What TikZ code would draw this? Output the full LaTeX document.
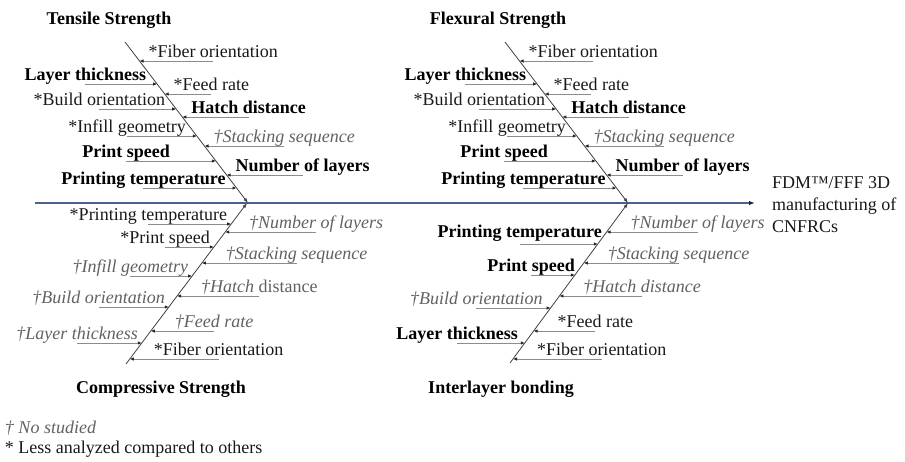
\documentclass[tikz,border=0pt]{standalone}
\usepackage{fontspec}
\setmainfont{Liberation Serif}
\usetikzlibrary{arrows.meta}
\definecolor{spineblue}{RGB}{76,95,145}
\newcommand{\fsz}{\fontsize{18}{22}\selectfont}

\begin{document}
\begin{tikzpicture}[
	x=1pt, y=-1pt,
	every node/.style={inner sep=0pt, outer sep=0pt, text=black!90},
	plain/.style={font=\fsz},
	boldtxt/.style={font=\fsz\bfseries, text=black},
	nostudy/.style={font=\fsz\itshape, text=black!62},
	ribleft/.style={anchor=base east, xshift=-11pt, yshift=4pt},
	ribright/.style={anchor=base west, xshift=9pt, yshift=4pt},
	ribleftlow/.style={anchor=base east, xshift=-4pt, yshift=4pt},
	ribrightlow/.style={anchor=base west, xshift=24pt, yshift=4pt},
	bone/.style={draw=black!75, line width=0.8pt, -{Latex[length=5pt,width=3.5pt]}},
	rib/.style={draw=black!45, line width=0.8pt, -{Latex[length=4pt,width=3.5pt,color=black!85]}},
	spine/.style={draw=spineblue, line width=1.2pt, -{Latex[length=6pt,width=4.5pt,color=black!85]}}
	]
	\useasboundingbox (0,0) rectangle (905,461);
	
	% Spine and bones
	\coordinate (spStart) at (35,203);
	\coordinate (spEnd) at (755,203);
	\coordinate (tsTop) at (125,42);
	\coordinate (tsEnd) at (248,203);
	\coordinate (fxTop) at (505,42);
	\coordinate (fxEnd) at (628,203);
	\coordinate (csBot) at (126,364);
	\coordinate (csEnd) at (247,203);
	\coordinate (ibBot) at (510,363);
	\coordinate (ibEnd) at (628,203);
	
	\draw[spine] (spStart) -- (spEnd);
	\draw[bone] (tsTop) -- (tsEnd);
	\draw[bone] (fxTop) -- (fxEnd);
	\draw[bone] (csBot) -- (csEnd);
	\draw[bone] (ibBot) -- (ibEnd);
	
	% Titles
	\node[boldtxt, anchor=base] (tsTitle) at (109,24) {Tensile Strength};
	\node[boldtxt, anchor=base] (fxTitle) at (498,24) {Flexural Strength};
	\node[boldtxt, anchor=base] (csTitle) at (161,393) {Compressive Strength};
	\node[boldtxt, anchor=base] (ibTitle) at (501,393) {Interlayer bonding};
	\node[plain, anchor=north west, align=left] (result) at (772,177) {FDM™/FFF 3D\\manufacturing of\\CNFRCs};
	
	% Tensile Strength
	\coordinate (ts1) at (139.5,61);
	\coordinate (ts2) at (157.1,84);
	\coordinate (ts3) at (164.7,94);
	\coordinate (ts4) at (176.2,109);
	\coordinate (ts5) at (182.3,117);
	\coordinate (ts6) at (196.8,136);
	\coordinate (ts7) at (204.5,146);
	\coordinate (ts8) at (215.9,161);
	\coordinate (ts9) at (226.6,175);
	\coordinate (ts10) at (236.5,188);
	\node[plain, ribright] (ts1t) at (ts1) {*Fiber orientation};
	\node[boldtxt, ribleft] (ts2t) at (ts2) {Layer thickness};
	\node[plain, ribright] (ts3t) at (ts3) {*Feed rate};
	\node[plain, ribleft] (ts4t) at (ts4) {*Build orientation};
	\node[boldtxt, ribright] (ts5t) at (ts5) {Hatch distance};
	\node[plain, ribleft] (ts6t) at (ts6) {*Infill geometry};
	\node[nostudy, ribright] (ts7t) at (ts7) {†Stacking sequence};
	\node[boldtxt, ribleft] (ts8t) at ([xshift=-35pt]ts8) {Print speed};
	\node[boldtxt, ribright] (ts9t) at (ts9) {Number of layers};
	\node[boldtxt, ribleft] (ts10t) at (ts10) {Printing temperature};
	
	% Flexural Strength
	\coordinate (fx1) at (519.5,61);
	\coordinate (fx2) at (537.1,84);
	\coordinate (fx3) at (544.7,94);
	\coordinate (fx4) at (556.2,109);
	\coordinate (fx5) at (562.3,117);
	\coordinate (fx6) at (576.8,136);
	\coordinate (fx7) at (584.5,146);
	\coordinate (fx8) at (595.9,161);
	\coordinate (fx9) at (606.6,175);
	\coordinate (fx10) at (616.5,188);
	\node[plain, ribright] (fx1t) at (fx1) {*Fiber orientation};
	\node[boldtxt, ribleft] (fx2t) at (fx2) {Layer thickness};
	\node[plain, ribright] (fx3t) at (fx3) {*Feed rate};
	\node[plain, ribleft] (fx4t) at (fx4) {*Build orientation};
	\node[boldtxt, ribright] (fx5t) at (fx5) {Hatch distance};
	\node[plain, ribleft] (fx6t) at (fx6) {*Infill geometry};
	\node[nostudy, ribright] (fx7t) at (fx7) {†Stacking sequence};
	\node[boldtxt, ribleft] (fx8t) at ([xshift=-37pt]fx8) {Print speed};
	\node[boldtxt, ribright] (fx9t) at (fx9) {Number of layers};
	\node[boldtxt, ribleft] (fx10t) at (fx10) {Printing temperature};
	
	% Compressive Strength
	\coordinate (cs1) at (231.2,224);
	\coordinate (cs2) at (225.2,232);
	\coordinate (cs3) at (213.9,247);
	\coordinate (cs4) at (201.9,263);
	\coordinate (cs5) at (192.1,276);
	\coordinate (cs6) at (177.1,296);
	\coordinate (cs7) at (168.8,307);
	\coordinate (cs8) at (150.8,331);
	\coordinate (cs9) at (141.8,343);
	\coordinate (cs10) at (129.8,359);
	\node[plain, ribleftlow] (cs1t) at (cs1) {*Printing temperature};
	\node[nostudy, ribrightlow] (cs2t) at (cs2) {†Number of layers};
	\node[plain, ribleftlow] (cs3t) at (cs3) {*Print speed};
	\node[nostudy, ribrightlow] (cs4t) at (cs4) {†Stacking sequence};
	\node[nostudy, ribleftlow] (cs5t) at (cs5) {†Infill geometry};
	\node[nostudy, ribrightlow] (cs6t) at (cs6) {†Hatch \textup{distance}};
	\node[nostudy, ribleftlow] (cs7t) at (cs7) {†Build orientation};
	\node[nostudy, ribrightlow] (cs8t) at (cs8) {†Feed rate};
	\node[nostudy, ribleftlow] (cs9t) at (cs9) {†Layer thickness};
	\node[plain, ribrightlow] (cs10t) at (cs10) {*Fiber orientation};
	
	% Interlayer bonding
	\coordinate (ib1) at (606.6,232);
	\coordinate (ib2) at (597.8,244);
	\coordinate (ib3) at (583.8,263);
	\coordinate (ib4) at (574.9,275);
	\coordinate (ib5) at (559.4,296);
	\coordinate (ib6) at (550.6,308);
	\coordinate (ib7) at (533.6,331);
	\coordinate (ib8) at (524.8,343);
	\coordinate (ib9) at (513.0,359);
	\node[nostudy, ribrightlow] (ib1t) at (ib1) {†Number of layers};
	\node[boldtxt, ribleftlow] (ib2t) at ([xshift=8pt,yshift=3pt]ib2) {Printing temperature};
	\node[nostudy, ribrightlow] (ib3t) at (ib3) {†Stacking sequence};
	\node[boldtxt, ribleftlow] (ib4t) at ([xshift=4pt]ib4) {Print speed};
	\node[nostudy, ribrightlow] (ib5t) at (ib5) {†Hatch distance};
	\node[nostudy, ribleftlow] (ib6t) at ([xshift=-4pt]ib6) {†Build orientation};
	\node[plain, ribrightlow] (ib7t) at (ib7) {*Feed rate};
	\node[boldtxt, ribleftlow] (ib8t) at ([xshift=-3pt]ib8) {Layer thickness};
	\node[plain, ribrightlow] (ib9t) at (ib9) {*Fiber orientation};
	
	% Rib arrows onto the bones
	\foreach \r in {ts1,ts2,ts3,ts4,ts5,ts6,ts7,ts8,ts9,ts10,
		fx1,fx2,fx3,fx4,fx5,fx6,fx7,fx8,fx9,fx10,
		cs1,cs2,cs3,cs4,cs5,cs6,cs7,cs8,cs9,cs10,
		ib1,ib2,ib3,ib4,ib5,ib6,ib7,ib8,ib9}
		\draw[rib] (\r t.base |- \r) -- (\r);
	
	% Legend
	\node[nostudy, anchor=base west] (legNo) at (5,433) {† No studied};
	\node[plain, anchor=base west] (legLess) at (5,453) {* Less analyzed compared to others};
	
\end{tikzpicture}
\end{document}
